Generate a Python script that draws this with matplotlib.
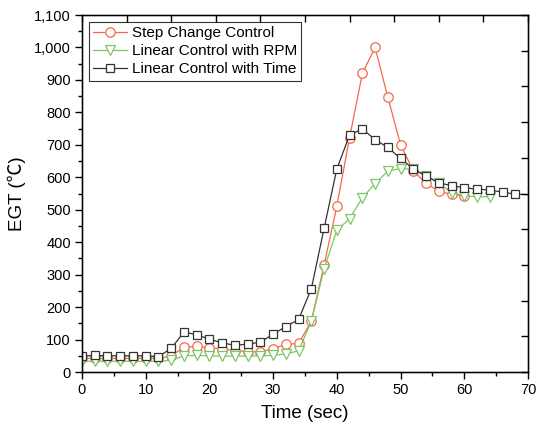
import numpy as np
import matplotlib.pyplot as plt
from matplotlib.ticker import MultipleLocator, StrMethodFormatter

plt.rcParams['font.family'] = ['Liberation Sans', 'Noto Sans CJK JP', 'DejaVu Sans']

# Dados (tempo em s, EGT em graus C)
t_step = [0, 2, 4, 6, 8, 10, 12, 14, 16, 18, 20, 22, 24, 26, 28, 30, 32, 34, 36, 38,
          40, 42, 44, 46, 48, 50, 52, 54, 56, 58, 60]
egt_step = [42, 42, 42, 42, 42, 42, 42, 50, 76, 79, 75, 71, 66, 63, 62, 72, 85, 88, 157, 330,
            512, 722, 920, 1000, 847, 700, 620, 581, 557, 547, 543]

t_rpm = [0, 2, 4, 6, 8, 10, 12, 14, 16, 18, 20, 22, 24, 26, 28, 30, 32, 34, 36, 38,
         40, 42, 44, 46, 48, 50, 52, 54, 56, 58, 60, 62, 64]
egt_rpm = [33, 33, 33, 33, 33, 33, 33, 36, 50, 51, 50, 49, 49, 49, 50, 51, 56, 65, 157, 318,
           437, 472, 537, 580, 619, 627, 624, 604, 583, 552, 543, 540, 540]

t_time = [0, 2, 4, 6, 8, 10, 12, 14, 16, 18, 20, 22, 24, 26, 28, 30, 32, 34, 36, 38,
          40, 42, 44, 46, 48, 50, 52, 54, 56, 58, 60, 62, 64, 66, 68, 72]
egt_time = [49, 51, 50, 50, 50, 50, 47, 73, 123, 115, 101, 90, 82, 86, 92, 117, 140, 162, 257, 443,
            626, 730, 749, 716, 692, 658, 626, 604, 583, 574, 568, 563, 561, 554, 548, 545]

labels = ['Step Change Control', 'Linear Control with RPM', 'Linear Control with Time']
cores = ['#f4694c', '#7cc765', '#333333']

fig = plt.figure(figsize=(5.39, 4.32), dpi=100)
ax = fig.add_axes([82/539, 60/432, 446/539, 357/432])

ax.plot(t_step, egt_step, color=cores[0], lw=0.9, marker='o', ms=6.8,
        mfc='white', mec=cores[0], mew=0.9, label=labels[0])
ax.plot(t_rpm, egt_rpm, color=cores[1], lw=0.9, marker='v', ms=7,
        mfc='white', mec=cores[1], mew=0.9, label=labels[1])
ax.plot(t_time, egt_time, color=cores[2], lw=0.9, marker='s', ms=6,
        mfc='white', mec=cores[2], mew=0.9, label=labels[2])

ax.set_xlim(0, 70)
ax.set_ylim(0, 1100)
ax.xaxis.set_major_locator(MultipleLocator(10))
ax.xaxis.set_minor_locator(MultipleLocator(5))
ax.yaxis.set_major_locator(MultipleLocator(100))
ax.yaxis.set_minor_locator(MultipleLocator(50))
ax.yaxis.set_major_formatter(StrMethodFormatter('{x:,.0f}'))
ax.tick_params(which='major', direction='out', length=5, width=1, labelsize=10.5, pad=3)
ax.tick_params(which='minor', direction='out', length=3, width=1)
for s in ax.spines.values():
    s.set_linewidth(1)

# eixos opostos (topo e direita) com marcas para dentro
axt = ax.twiny()
axt.set_xlim(0, 70)
axt.set_xticks(np.arange(0, 71, 7))
axt.tick_params(direction='in', length=5, width=1, labeltop=False)
axr = ax.twinx()
axr.set_ylim(0, 1100)
axr.set_yticks(np.arange(0, 1101, 110))
axr.tick_params(direction='in', length=5, width=1, labelright=False)

ax.set_xlabel('Time (sec)', fontsize=13.5, labelpad=6)
ax.set_ylabel('EGT (℃)', fontsize=13.5, labelpad=6)

leg = ax.legend(loc='upper left', fontsize=11, frameon=True, fancybox=False,
                edgecolor='black', handlelength=2.2, handletextpad=0.3,
                labelspacing=0.25, borderpad=0.3, borderaxespad=0.45)
leg.get_frame().set_linewidth(0.8)

plt.savefig('out.png', dpi=100)
